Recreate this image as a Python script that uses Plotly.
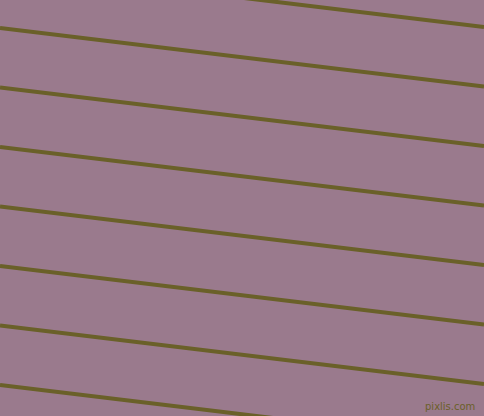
import plotly.graph_objects as go

# Pattern data: y-position (px, from top) of each stripe at the left and right edges
left_y = [-31.5, 28, 87.5, 147, 206.5, 266, 325.5, 385]
right_y = [27, 86.5, 146, 205.5, 265, 324.5, 384, 443.5]
x_edges = [0, 484]

BG = "#9A7A8D"
LINE = "#6A6029"

fig = go.Figure()
for a, b in zip(left_y, right_y):
    fig.add_trace(go.Scatter(x=x_edges, y=[a, b], mode="lines",
                             line=dict(color=LINE, width=4),
                             hoverinfo="skip", showlegend=False))

fig.add_annotation(text="pixlis.com", x=1, y=0, xref="paper", yref="paper",
                   xanchor="right", yanchor="bottom", xshift=-7, yshift=2,
                   showarrow=False, font=dict(family="DejaVu Sans", size=10, color=LINE))

fig.update_layout(
    width=484, height=416, autosize=False,
    margin=dict(l=0, r=0, t=0, b=0, pad=0),
    paper_bgcolor=BG, plot_bgcolor=BG,
    xaxis=dict(range=[0, 484], visible=False, fixedrange=True),
    yaxis=dict(range=[416, 0], visible=False, fixedrange=True),
)
fig.write_html("out.html", config={"displayModeBar": False})

with open("out.html", encoding="utf-8") as f:
    html = f.read()
html = html.replace("<body>", '<body style="margin:0;padding:0;overflow:hidden">', 1)
with open("out.html", "w", encoding="utf-8") as f:
    f.write(html)
